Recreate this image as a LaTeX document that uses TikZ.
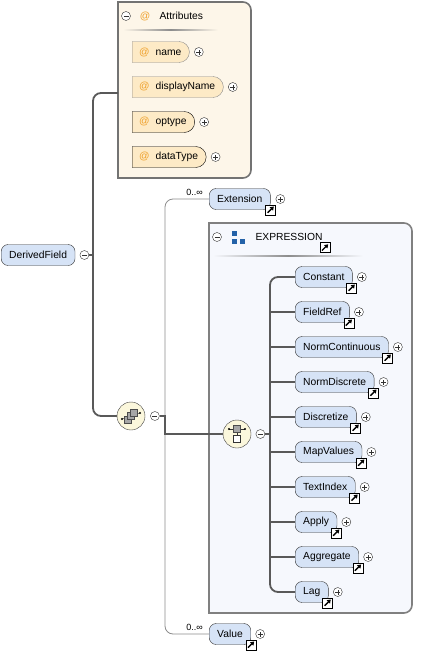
\documentclass[tikz,border=0pt]{standalone}
\usepackage{fontspec}
\setmainfont{Liberation Sans}
\usetikzlibrary{shapes.misc}
\usetikzlibrary{arrows.meta}
\usetikzlibrary{positioning}

\definecolor{elemfill}{HTML}{D6E3F6}
\definecolor{attrfill}{HTML}{FDEAC6}
\definecolor{attrbg}{HTML}{FDF6E9}
\definecolor{grpbg}{HTML}{F6F8FD}
\definecolor{compfill}{HTML}{FBF7DC}
\definecolor{atsign}{HTML}{EFA12C}
\definecolor{grpicon}{HTML}{2462A8}

\begin{document}
\begin{tikzpicture}[x=1pt,y=-1pt,font=\fontsize{10.3}{12}\selectfont,
  elem/.style={draw=black!80, fill=elemfill, rounded corners=7pt, minimum height=21pt, inner xsep=8pt, inner ysep=0pt, anchor=west},
  attr/.style={rounded rectangle, rounded rectangle left arc=none, fill=attrfill, minimum height=21pt, inner xsep=7pt, inner ysep=0pt, anchor=west},
  btn/.style={circle, draw=black!80, fill=white, minimum size=9pt, inner sep=0pt},
  plusbtn/.style={btn, path picture={
    \draw ([xshift=-2.5pt]path picture bounding box.center) -- ([xshift=2.5pt]path picture bounding box.center);
    \draw ([yshift=-2.5pt]path picture bounding box.center) -- ([yshift=2.5pt]path picture bounding box.center);}},
  minusbtn/.style={btn, path picture={
    \draw ([xshift=-2.5pt]path picture bounding box.center) -- ([xshift=2.5pt]path picture bounding box.center);}},
  linkicon/.style={draw=black, fill=white, minimum size=10pt, inner sep=0pt, path picture={
    \draw[line width=1.4pt, -{Triangle[length=3.5pt,width=4.5pt]}] ([shift={(-3pt,-3pt)}]path picture bounding box.center) -- ([shift={(3.2pt,3.2pt)}]path picture bounding box.center);}},
  comp/.style={circle, draw=black!75, fill=compfill, minimum size=28pt, inner sep=0pt},
  trunk/.style={draw=black!65, line width=1.8pt},
  thinline/.style={draw=black!45, line width=0.8pt},
  card/.style={font=\fontsize{9}{10}\selectfont, inner sep=0pt, anchor=base east},
  sqr/.style={draw=black!70, fill=black!35, line width=0.5pt}]

\useasboundingbox (0,0) rectangle (430,651);

% attribute group
\draw[draw=black!55, fill=attrbg, line width=1.6pt] (118,178) -- (118,2) -- (180,2) [rounded corners=8pt] -- (251,2) -- (251,178) -- (180,178) [sharp corners] -- cycle;
\shade[left color=attrbg, right color=attrbg, middle color=black!45] (123,29.2) rectangle (218,30.8);
\coordinate (attrs) at (118,93);
\node[minusbtn] (atm) at (126,16) {};
\node[text=atsign] (atat) at (145,16) {@};
\node[anchor=west] (athd) at (156,16) {Attributes};

\node[attr, draw=black!45] (aname) at (132,52) {\textcolor{atsign}{@}\hspace{6pt}name};
\node[plusbtn, right=4.5pt of aname] {};
\node[attr, draw=black!45] (adisp) at (132,87) {\textcolor{atsign}{@}\hspace{6pt}displayName};
\node[plusbtn, right=4.5pt of adisp] {};
\node[attr, draw=black] (aopt) at (132,122) {\textcolor{atsign}{@}\hspace{6pt}optype};
\node[plusbtn, right=4.5pt of aopt] {};
\node[attr, draw=black] (adata) at (132,157) {\textcolor{atsign}{@}\hspace{6pt}dataType};
\node[plusbtn, right=4.5pt of adata] {};

% EXPRESSION group
\draw[draw=black!50, fill=grpbg, line width=1.6pt] (209,613) -- (209,223) -- (320,223) [rounded corners=8pt] -- (412,223) -- (412,613) -- (320,613) [sharp corners] -- cycle;
\shade[left color=grpbg, right color=grpbg, middle color=black!45] (213,255.2) rectangle (363,256.8);
\node[minusbtn] (grm) at (217,237) {};
\fill[grpicon] (232,231) rectangle (236.5,235.5);
\fill[grpicon] (232,239) rectangle (236.5,243.5);
\fill[grpicon] (240,239) rectangle (244.5,243.5);
\node[anchor=west] (grhd) at (252,237) {EXPRESSION};
\node[linkicon] at (325,247.5) {};

% main element and compositors
\node[elem] (df) at (1,255) {DerivedField};
\node[minusbtn, right=4.5pt of df] (dfm) {};

\node[comp] (seq) at (131,416) {};
\node[minusbtn, right=5pt of seq] (seqm) {};
\begin{scope}[shift={(seq.center)}]
  \draw[black!80] (-9,3) -- (9,-3);
  \fill[black] (-9,3) circle (1.1);
  \fill[black] (9,-3) circle (1.1);
  \draw[sqr] (-6.5,0) rectangle (0.5,7);
  \draw[sqr] (-3.5,-3.5) rectangle (3.5,3.5);
  \draw[sqr] (-0.5,-7) rectangle (6.5,0);
\end{scope}

\node[comp] (choice) at (237,434) {};
\node[minusbtn, right=4.5pt of choice] (chm) {};
\begin{scope}[shift={(choice.center)}]
  \draw[black!80] (-8,-5) -- (8,-5);
  \fill[black] (-8,-5) circle (1.1);
  \fill[black] (8,-5) circle (1.1);
  \draw[sqr] (-3.5,-8.5) rectangle (3.5,-1.5);
  \draw[black!80] (0,-1.5) -- (0,1.5);
  \draw[draw=black!80, fill=white, line width=0.5pt] (-3.5,1.5) rectangle (3.5,8.5);
\end{scope}

% sequence children
\node[elem] (ext) at (209,199) {Extension};
\node[plusbtn, right=5pt of ext] {};
\node[linkicon] at (ext.south east) {};
\node[card] at (203,195) {0..∞};

\node[elem] (val) at (209,634) {Value};
\node[plusbtn, right=4.5pt of val] {};
\node[linkicon] at (val.south east) {};
\node[card] at (203,630) {0..∞};

% choice children
\foreach \nm [count=\i] in {Constant,FieldRef,NormContinuous,NormDiscrete,Discretize,MapValues,TextIndex,Apply,Aggregate,Lag}
{
  \node[elem] (c\i) at (295,242+35*\i) {\nm};
  \node[plusbtn, right=4.5pt of c\i] {};
  \node[linkicon] at ([xshift=-1pt]c\i.south east) {};
}

% connectors
\coordinate (bus) at (93,255);
\coordinate (seqbus) at (165,416);
\coordinate (chbus) at (270,434);
\draw[thinline, rounded corners=8pt] (ext.west) -| (seqbus) |- (val.west);
\draw[trunk] (dfm.east) -- (bus);
\draw[trunk, rounded corners=8pt] (attrs) -| (bus) |- (seq.west);
\draw[trunk] (seqm.east) -| (seqbus) |- (choice.west);
\draw[trunk] (chm.east) -- (chbus);
\draw[trunk, rounded corners=8pt] (c1.west) -| (chbus) |- (c10.west);
\foreach \i in {2,...,9}
  \draw[trunk] (chbus |- c\i.west) -- (c\i.west);

\end{tikzpicture}
\end{document}
